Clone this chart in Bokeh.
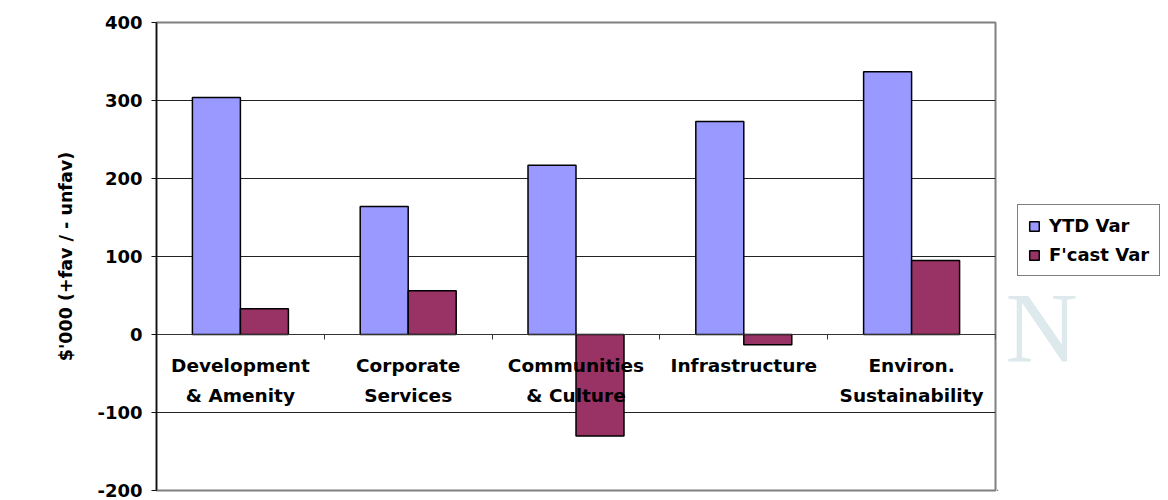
from bokeh.plotting import figure
from bokeh.layouts import row
from bokeh.models import (ColumnDataSource, FixedTicker, Range1d, Legend, LegendItem, Label)
from bokeh.core.properties import value
from bokeh.embed import file_html
from bokeh.resources import INLINE
import numpy as np

categories = ["Development\n& Amenity", "Corporate\nServices", "Communities\n& Culture",
              "Infrastructure", "Environ.\nSustainability"]
ytd_var = [304, 164, 217, 273, 337]
fcast_var = [33, 56, -130, -13, 95]
y_ticks = [-200, -100, 0, 100, 200, 300, 400]
series_names = ["YTD Var", "F'cast Var"]
series_colors = ["#9999FF", "#993366"]

FONT = "DejaVu Sans"
FS = "18px"
n = len(categories)
centers = np.arange(n) + 0.5
bw = 0.286

p = figure(width=997, height=500, output_backend="svg", toolbar_location=None,
           x_range=Range1d(0, n), y_range=Range1d(y_ticks[0], y_ticks[-1]),
           min_border_left=156, min_border_right=2, min_border_top=22, min_border_bottom=10,
           background_fill_color="white", border_fill_color="white")
p.outline_line_color = "#808080"
p.outline_line_width = 2
p.xgrid.visible = False
p.ygrid.ticker = FixedTicker(ticks=y_ticks)
p.ygrid.grid_line_color = "#222222"
p.ygrid.grid_line_width = 1

# y axis
ya = p.yaxis[0]
ya.ticker = FixedTicker(ticks=y_ticks)
ya.major_label_overrides = {t: str(t) for t in y_ticks}
ya.minor_tick_line_color = None
ya.major_tick_in = 0
ya.major_tick_out = 5
ya.major_tick_line_color = "#111111"
ya.axis_line_color = "#111111"
ya.axis_line_width = 1.5
ya.major_label_standoff = 9
ya.major_label_text_font = FONT
ya.major_label_text_font_style = "bold"
ya.major_label_text_font_size = FS
ya.major_label_text_color = "black"
ya.axis_label = "$'000 (+fav / - unfav)"
ya.axis_label_text_font = FONT
ya.axis_label_text_font_style = "bold"
ya.axis_label_text_font_size = "17.5px"
ya.axis_label_text_color = "black"
ya.axis_label_standoff = 18

# x axis at zero with ticks between categories
xa = p.xaxis[0]
xa.fixed_location = 0
xa.ticker = FixedTicker(ticks=list(range(n + 1)))
xa.major_label_overrides = {i: "" for i in range(n + 1)}
xa.minor_tick_line_color = None
xa.major_tick_in = 0
xa.major_tick_out = 5
xa.major_tick_line_color = "#333333"
xa.axis_line_color = "#333333"
xa.major_label_standoff = 0

src = ColumnDataSource(dict(
    x_ytd=centers - bw / 2, x_fc=centers + bw / 2,
    ytd=ytd_var, fc=fcast_var,
    line1=[c.split("\n")[0] for c in categories],
    line2=[c.split("\n")[1] if "\n" in c else "" for c in categories],
    xc=centers, zero=[0] * n,
))

p.vbar(x="x_ytd", top="ytd", bottom=0, width=bw, source=src,
       fill_color=series_colors[0], line_color="black", line_width=1.5)
p.vbar(x="x_fc", top="fc", bottom=0, width=bw, source=src,
       fill_color=series_colors[1], line_color="black", line_width=1.5)

for col, off in (("line1", 31), ("line2", 61)):
    p.text(x="xc", y="zero", text=col, source=src, y_offset=off,
           text_align="center", text_baseline="middle",
           text_font=value(FONT), text_font_style="bold", text_font_size="18.5px",
           text_color="black")

# right-hand area holding the legend
p2 = figure(width=171, height=500, output_backend="svg", toolbar_location=None,
            x_range=Range1d(0, 171), y_range=Range1d(0, 500),
            min_border=0, background_fill_color="white", border_fill_color="white")
p2.axis.visible = False
p2.grid.visible = False
p2.outline_line_color = None

p2.add_layout(Label(x=8, y=108, x_units="screen", y_units="screen", text="N",
                    text_font="Liberation Serif", text_font_size="100px",
                    text_color="#dde9ed"))

# off-screen swatches used only for the legend
swatch = ColumnDataSource(dict(x=[-1000], top=[-1000]))
d1 = p2.vbar(x="x", top="top", width=1, source=swatch,
             fill_color=series_colors[0], line_color="black", line_width=1.5)
d2 = p2.vbar(x="x", top="top", width=1, source=swatch,
             fill_color=series_colors[1], line_color="black", line_width=1.5)

legend = Legend(items=[LegendItem(label=series_names[0], renderers=[d1], index=0),
                       LegendItem(label=series_names[1], renderers=[d2], index=0)],
                location=(20, 214), orientation="vertical")
legend.label_text_font = FONT
legend.label_text_font_style = "bold"
legend.label_text_font_size = FS
legend.label_text_color = "black"
legend.glyph_width = 12
legend.glyph_height = 12
legend.label_height = 18
legend.label_standoff = 9
legend.spacing = 8
legend.padding = 10
legend.margin = 0
legend.border_line_color = "black"
legend.border_line_width = 1
legend.background_fill_color = "white"
legend.background_fill_alpha = 1
p2.add_layout(legend)

layout = row(p, p2, spacing=0)
open("out.html", "w").write(file_html(layout, INLINE))
